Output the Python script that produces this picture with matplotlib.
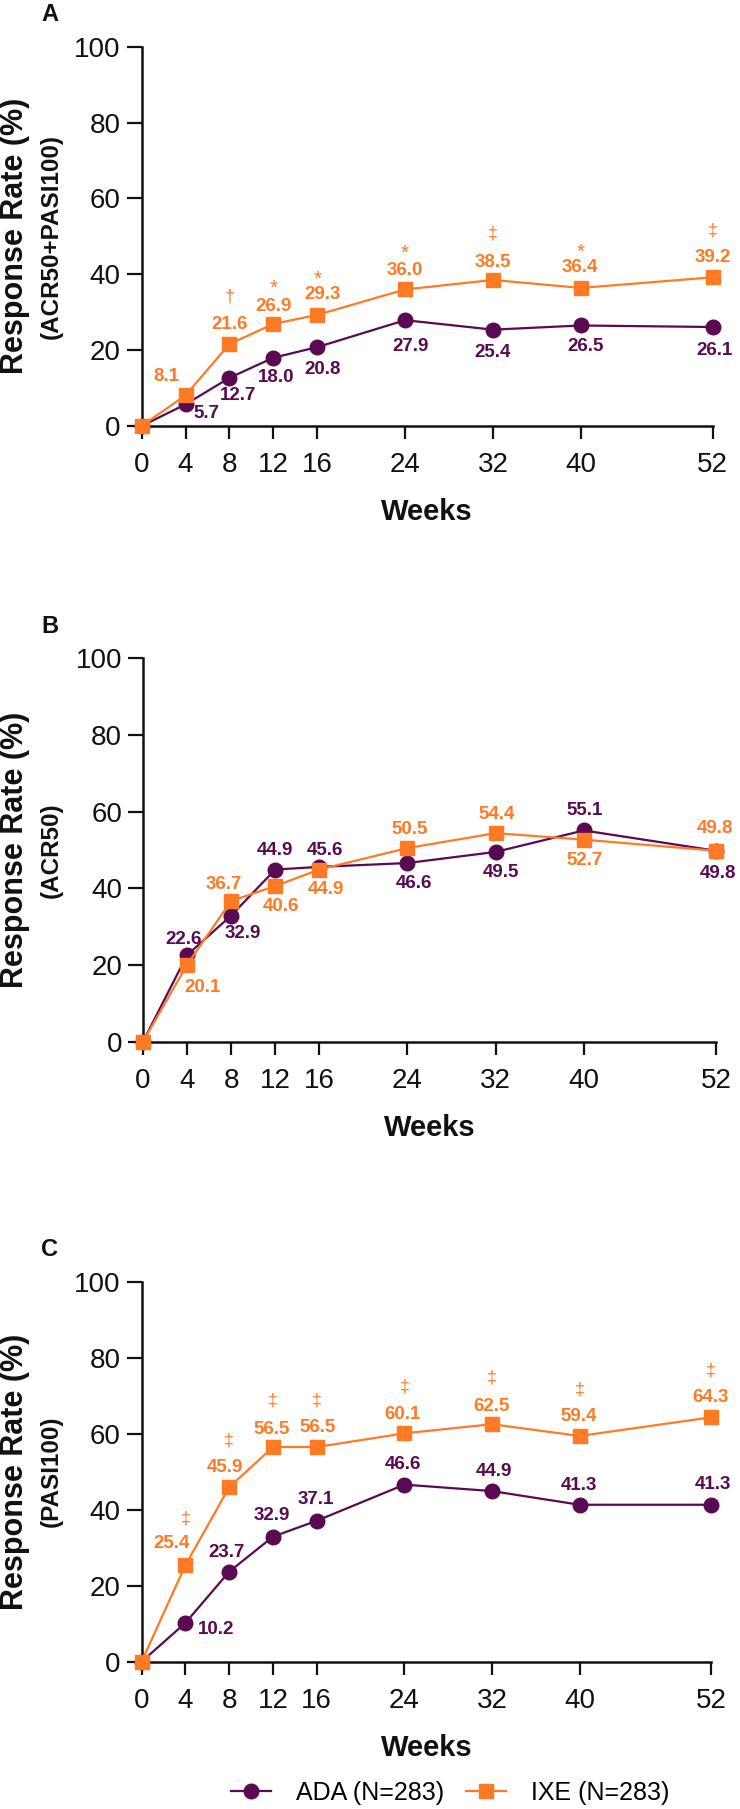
import matplotlib
matplotlib.use("Agg")
import matplotlib.pyplot as plt
from matplotlib.lines import Line2D

plt.rcParams['font.family'] = ['Liberation Sans', 'DejaVu Sans']

weeks = [0, 4, 8, 12, 16, 24, 32, 40, 52]
week_labels = ["0", "4", "8", "12", "16", "24", "32", "40", "52"]
yticks = [0, 20, 40, 60, 80, 100]

ada_A = [0, 5.7, 12.7, 18.0, 20.8, 27.9, 25.4, 26.5, 26.1]
ixe_A = [0, 8.1, 21.6, 26.9, 29.3, 36.0, 38.5, 36.4, 39.2]
sig_A = ["", "", "†", "*", "*", "*", "‡", "*", "‡"]

ada_B = [0, 22.6, 32.9, 44.9, 45.6, 46.6, 49.5, 55.1, 49.8]
ixe_B = [0, 20.1, 36.7, 40.6, 44.9, 50.5, 54.4, 52.7, 49.8]
sig_B = ["", "", "", "", "", "", "", "", ""]

ada_C = [0, 10.2, 23.7, 32.9, 37.1, 46.6, 44.9, 41.3, 41.3]
ixe_C = [0, 25.4, 45.9, 56.5, 56.5, 60.1, 62.5, 59.4, 64.3]
sig_C = ["", "‡", "‡", "‡", "‡", "‡", "‡", "‡", "‡"]

panel_letters = ["A", "B", "C"]
sub_labels = ["(ACR50+PASI100)", "(ACR50)", "(PASI100)"]
legend_labels = ["ADA (N=283)", "IXE (N=283)"]

PURPLE = "#5a0a52"
ORANGE = "#ff7a25"

# label offsets in pixels (dx right, dy down) for each point, index 0 unused
offA_ada = [None, (21, 7), (9, 16), (3, 18), (5, 20), (5, 24), (0, 21), (5, 19), (2, 21)]
offA_ixe = [None, (-19, -21), (0, -22), (0, -20), (5, -22), (0, -21), (0, -20), (-1, -23), (0, -22)]
offB_ada = [None, (-4, -18), (12, 16), (0, -21), (6, -18), (6, 18), (5, 18), (1, -22), (2, 21)]
offB_ixe = [None, (15, 21), (-7, -19), (6, 18), (7, 18), (2, -21), (1, -21), (1, 19), (-1, -24)]
offC_ada = [None, (31, 4), (-3, -21), (-1, -23), (-1, -23), (-1, -22), (2, -22), (-1, -21), (2, -22)]
offC_ixe = [None, (-14, -24), (-4, -22), (-1, -20), (1, -22), (-2, -21), (0, -20), (-1, -22), (0, -22)]

panels = [
    (ada_A, ixe_A, sig_A, offA_ada, offA_ixe, (141.6, 712.6, 46.7, 426.0)),
    (ada_B, ixe_B, sig_B, offB_ada, offB_ixe, (143.0, 716.0, 658.3, 1041.7)),
    (ada_C, ixe_C, sig_C, offC_ada, offC_ixe, (141.6, 711.0, 1281.7, 1661.7)),
]

W, H = 740, 1809
fig = plt.figure(figsize=(W / 100, H / 100), dpi=100)
PX = 0.72  # points per pixel

for i, (ada, ixe, sig, oada, oixe, (x0, x1, ytop, ybot)) in enumerate(panels):
    ax = fig.add_axes([x0 / W, 1 - ybot / H, (x1 - x0) / W, (ybot - ytop) / H])
    ax.plot(weeks, ada, color=PURPLE, lw=1.6, marker="o", ms=10.5,
            clip_on=False, zorder=3)
    ax.plot(weeks, ixe, color=ORANGE, lw=1.6, marker="s", ms=10,
            clip_on=False, zorder=4)
    ax.set_xlim(0, 52)
    ax.set_ylim(0, 100)
    ax.set_xticks(weeks)
    ax.set_xticklabels(week_labels)
    ax.set_yticks(yticks)
    for s in ["top", "right"]:
        ax.spines[s].set_visible(False)
    for s in ["left", "bottom"]:
        ax.spines[s].set_linewidth(1.8)
        ax.spines[s].set_color("#111111")
    ax.tick_params(axis="y", length=11, width=1.6, pad=4, labelsize=20,
                   colors="#111111")
    ax.tick_params(axis="x", length=9, width=1.6, pad=10, labelsize=20,
                   colors="#111111")
    ax.set_xlabel("Weeks", fontsize=21, fontweight="bold", labelpad=14)
    ax.xaxis.label.set_color("#111111")

    for j in range(1, len(weeks)):
        dx, dy = oada[j]
        ax.annotate(f"{ada[j]:.1f}", (weeks[j], ada[j]), xytext=(dx * PX, -dy * PX - 1.5),
                    textcoords="offset points", ha="center", va="center",
                    fontsize=13.5, fontweight="bold", color=PURPLE, zorder=5,
                    annotation_clip=False)
        dx, dy = oixe[j]
        ax.annotate(f"{ixe[j]:.1f}", (weeks[j], ixe[j]), xytext=(dx * PX, -dy * PX - 1.5),
                    textcoords="offset points", ha="center", va="center",
                    fontsize=13.5, fontweight="bold", color=ORANGE, zorder=5,
                    annotation_clip=False)
        if sig[j]:
            if sig[j] == "*":
                sdy = -36
            elif sig[j] == "†":
                sdy = -47
            else:
                sdy = -46
            ax.annotate(sig[j], (weeks[j], ixe[j]), xytext=(0, -sdy * PX),
                        textcoords="offset points", ha="center", va="center",
                        fontsize=15 if sig[j] == "*" else 13, color=ORANGE,
                        zorder=5, annotation_clip=False)

    yc = 1 - (ytop + ybot) / 2 / H
    fig.text(15 / W, yc, "Response Rate (%)", rotation=90, ha="center", va="center",
             fontsize=22, fontweight="bold", color="#111111")
    fig.text(51 / W, yc, sub_labels[i], rotation=90, ha="center", va="center",
             fontsize=17.5, fontweight="bold", color="#111111")
    fig.text(50 / W, 1 - (ytop - 32) / H, panel_letters[i], ha="center", va="center",
             fontsize=17, fontweight="bold", color="#111111")

handles = [
    Line2D([], [], color=PURPLE, lw=1.6, marker="o", ms=10.5),
    Line2D([], [], color=ORANGE, lw=1.6, marker="s", ms=10),
]
fig.legend(handles, legend_labels, loc="center", bbox_to_anchor=(450 / W, 1 - 1793 / H),
           ncol=2, frameon=False, fontsize=18, handlelength=1.6, handletextpad=1.0,
           columnspacing=0.9, borderpad=0, borderaxespad=0)

fig.savefig("out.png", dpi=100)
